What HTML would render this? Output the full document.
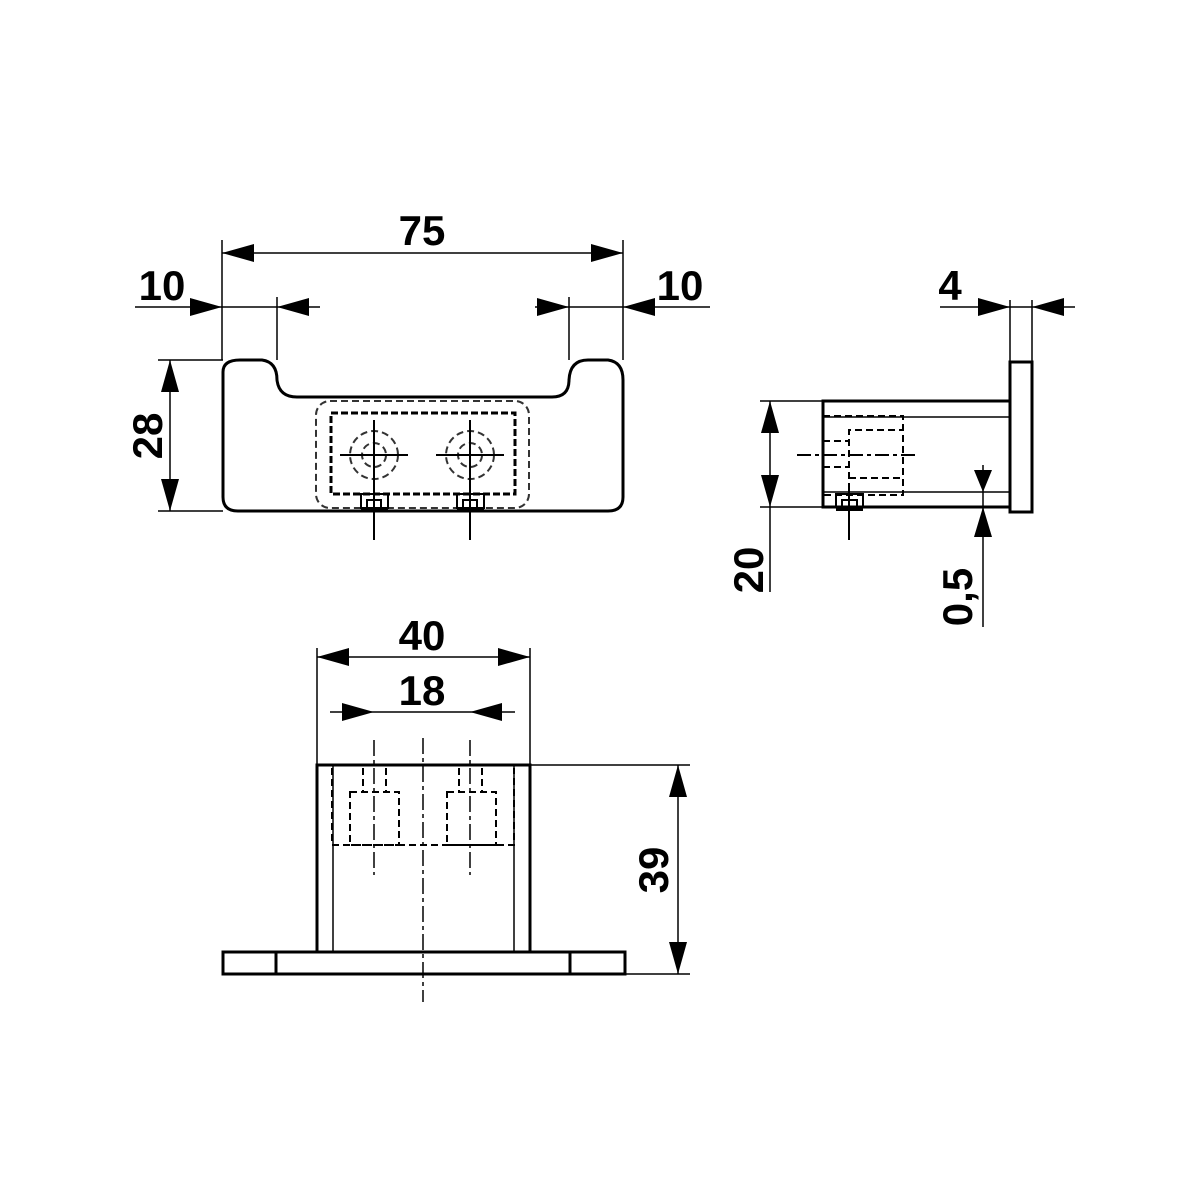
<!DOCTYPE html>
<html><head><style>html,body{margin:0;padding:0;background:#fff}svg{display:block}</style></head>
<body>
<svg width="1200" height="1200" viewBox="0 0 1200 1200" xmlns="http://www.w3.org/2000/svg">
<g fill="none" stroke="#000" stroke-linecap="butt">
<path d="M223,372 Q223,360 240,360 L262,360 Q277,362 277,380 Q279,397 297,397 L552,397 Q569,397 569,380 Q570,360 588,360 L608,360 Q623,362 623,380 L623,497 Q623,511 608,511 L238,511 Q223,511 223,497 Z" stroke-width="3"/>
<g stroke-dasharray="7,4" stroke-width="2" stroke="#333">
<rect x="316" y="401" width="213" height="107" rx="14"/>
<circle cx="374" cy="455" r="24"/><circle cx="374" cy="455" r="12"/>
<circle cx="470" cy="455" r="24"/><circle cx="470" cy="455" r="12"/>
</g>
<rect x="331" y="413" width="184" height="81" stroke-dasharray="7,3" stroke-width="3"/>
<g stroke-width="2">
<line x1="340" y1="455" x2="408" y2="455"/><line x1="374" y1="420" x2="374" y2="540"/>
<line x1="436" y1="455" x2="504" y2="455"/><line x1="470" y1="420" x2="470" y2="540"/>
<rect x="361" y="494" width="27" height="14"/><rect x="457" y="494" width="27" height="14"/>
<path d="M367,508 L367,500 L381,500 L381,508 M463,508 L463,500 L477,500 L477,508"/>
</g>
<rect x="361" y="508" width="27" height="4" fill="#000" stroke="none"/>
<rect x="457" y="508" width="27" height="4" fill="#000" stroke="none"/>
<g stroke-width="1.5">
<line x1="222" y1="240" x2="222" y2="360"/><line x1="623" y1="240" x2="623" y2="360"/>
<line x1="222" y1="253" x2="623" y2="253"/>
<line x1="135" y1="307" x2="320" y2="307"/><line x1="277" y1="297" x2="277" y2="360"/>
<line x1="535" y1="307" x2="710" y2="307"/><line x1="569" y1="297" x2="569" y2="360"/>
<line x1="158" y1="360" x2="223" y2="360"/><line x1="158" y1="511" x2="223" y2="511"/>
<line x1="170" y1="360" x2="170" y2="511"/>
</g>
</g>
<g fill="#000">
<polygon points="222,253 254,244 254,262"/><polygon points="623,253 591,244 591,262"/>
<polygon points="222,307 190,298 190,316"/><polygon points="277,307 309,298 309,316"/>
<polygon points="569,307 537,298 537,316"/><polygon points="623,307 655,298 655,316"/>
<polygon points="170,360 161,392 179,392"/><polygon points="170,511 161,479 179,479"/>
</g>
<g fill="none" stroke="#000">
<rect x="1010" y="362" width="22" height="150" stroke-width="3"/>
<rect x="823" y="401" width="187" height="106" stroke-width="3"/>
<g stroke-width="1.5">
<line x1="823" y1="417" x2="1010" y2="417"/><line x1="823" y1="492" x2="1010" y2="492"/>
<line x1="1010" y1="300" x2="1010" y2="362"/><line x1="1032" y1="300" x2="1032" y2="362"/>
<line x1="940" y1="307" x2="1075" y2="307"/>
<line x1="760" y1="401" x2="823" y2="401"/><line x1="760" y1="507" x2="823" y2="507"/>
<line x1="770" y1="401" x2="770" y2="592"/>
<line x1="983" y1="465" x2="983" y2="627"/>
<line x1="972" y1="507" x2="1010" y2="507"/>
</g>
<g stroke-dasharray="7,4" stroke-width="2">
<path d="M823,416 L903,416 L903,495 L823,495"/>
<path d="M849,490 L849,430 L903,430 M849,478 L903,478"/>
<path d="M823,441 L849,441 M823,467 L849,467"/>
<path d="M797,455 L915,455" stroke-dasharray="14,4,4,4"/>
</g>
<g stroke-width="2">
<rect x="836" y="494" width="27" height="13"/>
<path d="M842,507 L842,500 L857,500 L857,507"/>
<line x1="849" y1="485" x2="849" y2="540"/>
</g>
</g>
<g fill="#000">
<rect x="836" y="507" width="27" height="4"/>
<polygon points="1010,307 978,298 978,316"/><polygon points="1032,307 1064,298 1064,316"/>
<polygon points="770,401 761,433 779,433"/><polygon points="770,507 761,475 779,475"/>
<polygon points="983,492 974,470 992,470"/><polygon points="983,507 974,537 992,537"/>
</g>
<g fill="none" stroke="#000">
<rect x="223" y="952" width="402" height="22" stroke-width="3"/>
<line x1="276" y1="952" x2="276" y2="974" stroke-width="3"/>
<line x1="570" y1="952" x2="570" y2="974" stroke-width="3"/>
<rect x="317" y="765" width="213" height="187" stroke-width="3"/>
<line x1="333" y1="765" x2="333" y2="952" stroke-width="1.5"/>
<line x1="514" y1="765" x2="514" y2="952" stroke-width="1.5"/>
<g stroke-dasharray="7,4" stroke-width="2">
<path d="M332,768 L332,845 L514,845 L514,768"/>
<rect x="350" y="792" width="49" height="53"/>
<rect x="447" y="792" width="49" height="53"/>
<path d="M363,768 L363,792 M386,768 L386,792 M459,768 L459,792 M482,768 L482,792"/>
</g>
<g stroke-dasharray="16,4,4,4" stroke-width="1.5">
<line x1="374" y1="740" x2="374" y2="875"/>
<line x1="470" y1="740" x2="470" y2="875"/>
<line x1="423" y1="738" x2="423" y2="1002"/>
</g>
<g stroke-width="1.5">
<line x1="317" y1="648" x2="317" y2="765"/><line x1="530" y1="648" x2="530" y2="765"/>
<line x1="317" y1="657" x2="530" y2="657"/>
<line x1="330" y1="712" x2="515" y2="712"/>
<line x1="530" y1="765" x2="690" y2="765"/><line x1="625" y1="974" x2="690" y2="974"/>
<line x1="678" y1="765" x2="678" y2="974"/>
</g>
</g>
<g fill="#000">
<polygon points="317,657 349,648 349,666"/><polygon points="530,657 498,648 498,666"/>
<polygon points="374,712 342,703 342,721"/><polygon points="470,712 502,703 502,721"/>
<polygon points="678,765 669,797 687,797"/><polygon points="678,974 669,942 687,942"/>
</g>
<g font-family="Liberation Sans, Arial, sans-serif" font-size="42" font-weight="bold" fill="#000" text-anchor="middle">
<text x="422" y="245">75</text>
<text x="162" y="300">10</text>
<text x="680" y="300">10</text>
<text x="950" y="300">4</text>
<text x="422" y="650">40</text>
<text x="422" y="705">18</text>
<text transform="translate(162,436) rotate(-90)">28</text>
<text transform="translate(763,570) rotate(-90)">20</text>
<text transform="translate(972,597) rotate(-90)">0,5</text>
<text transform="translate(668,870) rotate(-90)">39</text>
</g>
</svg>
</body></html>
